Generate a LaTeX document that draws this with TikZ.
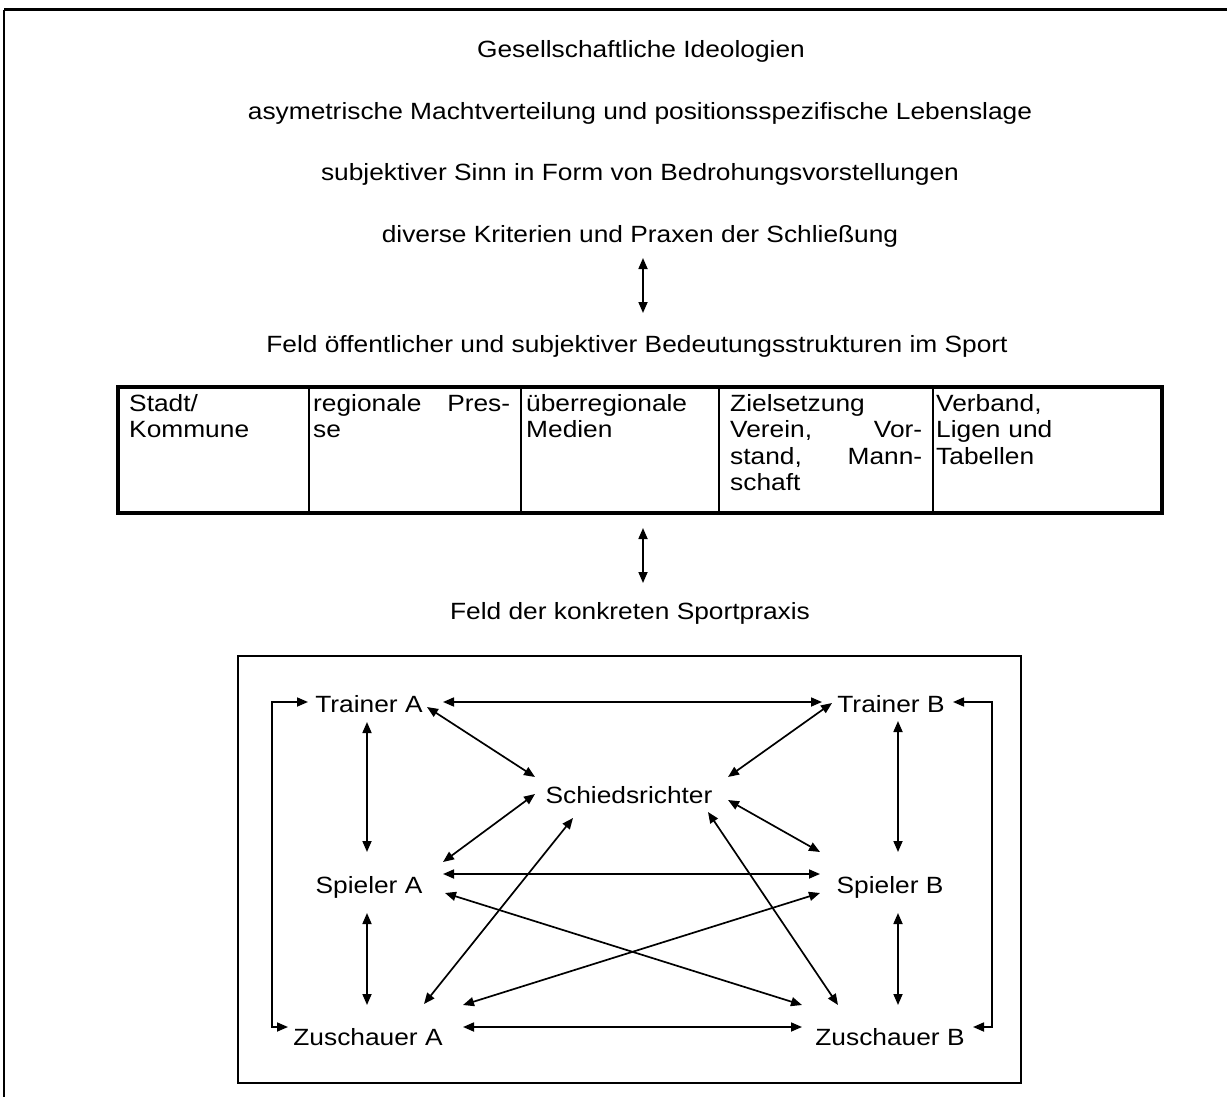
\documentclass[tikz,border=0pt]{standalone}
\usepackage{fontspec}
\setmainfont{Liberation Sans}[FakeStretch=1.12]
\usetikzlibrary{arrows.meta,calc}
\begin{document}
\begin{tikzpicture}[x=1pt,y=-1pt,
  every node/.style={font=\fontsize{23.5}{26.5}\selectfont, inner sep=0pt},
  lbl/.style={anchor=base},
  cell/.style={anchor=north west, align=left},
  dbl/.style={line width=1.7pt, {Triangle[length=11pt,width=9pt]}-{Triangle[length=11pt,width=9pt]}},
  frame/.style={line width=2pt},
  ]
\useasboundingbox (0,0) rectangle (1227,1097);
% outer frame (top and left)
\draw[line width=3pt] (4,10) -- (1227,10);
\draw[line width=1.6pt] (4,10) -- (4,1097);

% headings
\node[lbl] (L1) at (641,58) {Gesellschaftliche Ideologien};
\node[lbl] (L2) at (640,120) {asymetrische Machtverteilung und positionsspezifische Lebenslage};
\node[lbl] (L3) at (640,181) {subjektiver Sinn in Form von Bedrohungsvorstellungen};
\node[lbl] (L4) at (640,242) {diverse Kriterien und Praxen der Schließung};
\node[lbl] (L5) at (637,352) {Feld öffentlicher und subjektiver Bedeutungsstrukturen im Sport};
\node[lbl] (L6) at (630,619) {Feld der konkreten Sportpraxis};

\draw[dbl] ($(L4.base)+(3,16)$) -- ($(L5.base)+(6,-39)$);

% table
\node[cell, text width=170pt] (C1) at (129,393) {\rule{0pt}{18pt}Stadt/\\Kommune};
\node[cell, text width=197pt] (C2) at (313,393) {\rule{0pt}{18pt}regionale\hfill Pres-\\se};
\node[cell, text width=190pt] (C3) at (526,393) {\rule{0pt}{18pt}überregionale\\Medien};
\node[cell, text width=192pt] (C4) at (730,393) {\rule{0pt}{18pt}Zielsetzung\\Verein,\hfill Vor-\\stand,\hfill Mann-\\schaft};
\node[cell, text width=200pt] (C5) at (936,393) {\rule{0pt}{18pt}Verband,\\Ligen und\\Tabellen};
\foreach \x in {309,521,719,933} \draw[line width=2pt] (\x,387) -- (\x,513);
\draw[line width=3.5pt] (118,387) rectangle (1162,513);
\coordinate (tabbot) at (643,513);
\draw[dbl] ($(tabbot)+(0,15)$) -- ($(L6.base)+(13,-36)$);

% sport practice box
\draw[frame] (238,656) rectangle (1021,1083);
\node[lbl] (TA) at (369,712) {Trainer A};
\node[lbl] (TB) at (891,712) {Trainer B};
\node[lbl] (SR) at (629,803) {Schiedsrichter};
\node[lbl] (SA) at (369,893) {Spieler A};
\node[lbl] (SB) at (890,893) {Spieler B};
\node[lbl] (ZA) at (368,1045) {Zuschauer A};
\node[lbl] (ZB) at (890,1045) {Zuschauer B};

\draw[dbl] ($(TA.base)+(74,-10)$) -- ($(TB.base)+(-69,-10)$);
\draw[dbl] ($(TA.base)+(58,-5)$) -- ($(SR.base)+(-94,-26)$);
\draw[dbl] ($(SR.base)+(99,-26)$) -- ($(TB.base)+(-59,-9)$);
\draw[dbl] ($(TA.base)+(-2,10)$) -- ($(SA.base)+(-2,-41)$);
\draw[dbl] ($(TB.base)+(7,9)$) -- ($(SB.base)+(8,-41)$);
\draw[dbl] ($(SR.base)+(-94,-9)$) -- ($(SA.base)+(74,-31)$);
\draw[dbl] ($(SR.base)+(99,-3)$) -- ($(SB.base)+(-70,-41)$);
\draw[dbl] ($(SA.base)+(74,-19)$) -- ($(SB.base)+(-70,-19)$);
\draw[dbl] ($(SA.base)+(76,0)$) -- ($(ZB.base)+(-88,-40)$);
\draw[dbl] ($(SB.base)+(-70,0)$) -- ($(ZA.base)+(95,-40)$);
\draw[dbl] ($(SR.base)+(-56,15)$) -- ($(ZA.base)+(56,-41)$);
\draw[dbl] ($(SR.base)+(79,9)$) -- ($(ZB.base)+(-52,-40)$);
\draw[dbl] ($(SA.base)+(-2,20)$) -- ($(ZA.base)+(-1,-40)$);
\draw[dbl] ($(SB.base)+(8,20)$) -- ($(ZB.base)+(8,-40)$);
\draw[dbl] ($(ZA.base)+(95,-18)$) -- ($(ZB.base)+(-88,-18)$);
\draw[dbl] ($(TA.base)+(-61,-10)$) -- ++(-36,0) |- ($(ZA.base)+(-80,-18)$);
\draw[dbl] ($(TB.base)+(62,-10)$) -- ++(39,0) |- ($(ZB.base)+(83,-18)$);
\end{tikzpicture}
\end{document}
